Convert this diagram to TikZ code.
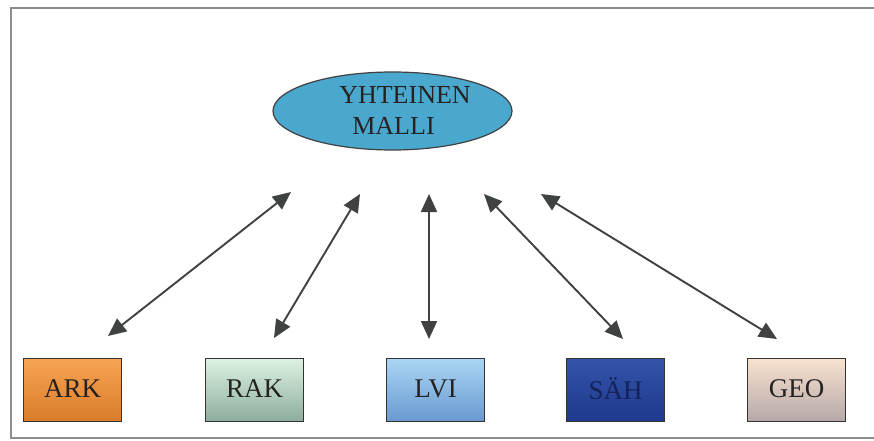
\documentclass[tikz,border=0pt]{standalone}
\usepackage{fontspec}
\setmainfont{Liberation Serif}
\usetikzlibrary{shapes.geometric,arrows.meta}
\definecolor{framegray}{HTML}{8C8C8C}
\definecolor{arrowgray}{HTML}{3E4242}
\definecolor{txt}{HTML}{262222}
\tikzset{
  discbox/.style={draw=black!80, line width=1.3pt, minimum width=98pt, minimum height=63pt,
    inner sep=0pt, font=\fontsize{27}{30}\selectfont, text=txt, anchor=north west},
  link/.style={arrowgray, line width=1.9pt, {Triangle[length=18pt,width=16pt]}-{Triangle[length=18pt,width=16pt]}},
  bigtext/.style={font=\fontsize{26}{30}\selectfont, text=txt, anchor=base, inner sep=0pt}
}
\begin{document}
\begin{tikzpicture}[x=1pt,y=-1pt]
\useasboundingbox (0,0) rectangle (874,441);
\fill[white] (0,0) rectangle (874,441);
\draw[framegray, line width=2.5pt] (876,8) -- (11,8) -- (11,438) -- (876,438);

\node[ellipse, draw=black!75, line width=1.2pt, fill={rgb,255:red,74;green,168;blue,207},
  minimum width=239pt, minimum height=78pt, inner sep=0pt] (malli) at (392.5,111) {};
\node[bigtext] (t1) at (405,103) {YHTEINEN};
\node[bigtext] (t2) at (393.5,134) {MALLI};

\node[discbox, top color={rgb,255:red,246;green,164;blue,84}, bottom color={rgb,255:red,216;green,124;blue,40}] (ark) at (23,358) {\raisebox{3pt}{ARK}};
\node[discbox, top color={rgb,255:red,220;green,242;blue,226}, bottom color={rgb,255:red,140;green,172;blue,156}] (rak) at (205,358) {\raisebox{3pt}{RAK}};
\node[discbox, top color={rgb,255:red,170;green,214;blue,244}, bottom color={rgb,255:red,104;green,152;blue,208}] (lvi) at (386,358) {\raisebox{3pt}{LVI}};
\node[discbox, text={rgb,255:red,22;green,34;blue,90}, top color={rgb,255:red,52;green,84;blue,170}, bottom color={rgb,255:red,30;green,56;blue,140}] (sah) at (566,358) {\raisebox{3pt}{SÄH}};
\node[discbox, top color={rgb,255:red,248;green,226;blue,206}, bottom color={rgb,255:red,182;green,168;blue,168}] (geo) at (747,358) {\raisebox{3pt}{GEO}};

\coordinate (a1) at (108,336); \coordinate (b1) at (291,192);
\coordinate (a2) at (274,338); \coordinate (b2) at (360,194);
\coordinate (a3) at (429,339); \coordinate (b3) at (429,194);
\coordinate (a4) at (623,339); \coordinate (b4) at (484,194);
\coordinate (a5) at (777,339); \coordinate (b5) at (541,194);
\draw[link] (a1) -- (b1);
\draw[link] (a2) -- (b2);
\draw[link] (a3) -- (b3);
\draw[link] (a4) -- (b4);
\draw[link] (a5) -- (b5);
\end{tikzpicture}
\end{document}
